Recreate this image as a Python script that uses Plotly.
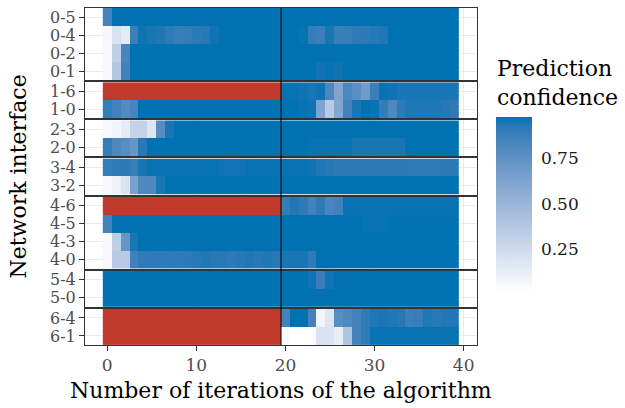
import numpy as np
import plotly.graph_objects as go
from plotly.subplots import make_subplots

# ---------------- DATA ----------------
ITERATIONS = list(range(40))
GROUPS = [
    ["0-5", "0-4", "0-2", "0-1"],
    ["1-6", "1-0"],
    ["2-3", "2-0"],
    ["3-4", "3-2"],
    ["4-6", "4-5", "4-3", "4-0"],
    ["5-4", "5-0"],
    ["6-4", "6-1"],
]
N = None
CONF = {
    "0-5": [.85, .98, .98, .98, .98, .98, .98, .98, .98, .98, .98, .98, .98, .98, .98, .98, .98, .98, .98, .98,
            .98, .98, .98, .98, .98, .98, .98, .98, .98, .98, .98, .98, .98, .98, .98, .98, .98, .98, .98, .98],
    "0-4": [.06, .20, .13, .88, .96, .95, .94, .91, .89, .90, .92, .93, .96, .98, .98, .98, .98, .98, .98, .98,
            .98, .98, .97, .90, .88, .95, .88, .89, .91, .92, .93, .94, .98, .98, .98, .98, .98, .98, .98, .98],
    "0-2": [.05, .32, .84, .98, .98, .98, .98, .98, .98, .98, .98, .98, .98, .98, .98, .98, .98, .98, .98, .98,
            .98, .98, .98, .98, .98, .98, .98, .98, .98, .98, .98, .98, .98, .98, .98, .98, .98, .98, .98, .98],
    "0-1": [.05, .38, .86, .98, .98, .98, .98, .98, .98, .98, .98, .98, .98, .98, .98, .98, .98, .98, .98, .98,
            .98, .98, .98, .98, .96, .97, .96, .98, .98, .98, .98, .98, .98, .98, .98, .98, .98, .98, .98, .98],
    "1-6": [N, N, N, N, N, N, N, N, N, N, N, N, N, N, N, N, N, N, N, N,
            .97, .97, .96, .95, .96, .83, .62, .83, .77, .68, .88, .97, .96, .95, .95, .95, .95, .95, .95, .95],
    "1-0": [.90, .86, .80, .84, .98, .98, .98, .98, .98, .98, .98, .98, .98, .98, .98, .98, .98, .98, .98, .98,
            .98, .98, .97, .96, .62, .35, .60, .86, .95, .98, .97, .90, .82, .91, .94, .94, .94, .94, .93, .92],
    "2-3": [.05, .08, .13, .30, .30, .17, .78, .95, .98, .98, .98, .98, .98, .98, .98, .98, .98, .98, .98, .98,
            .98, .98, .98, .98, .98, .98, .98, .98, .98, .98, .98, .98, .98, .98, .98, .98, .98, .98, .98, .98],
    "2-0": [.90, .82, .78, .72, .93, .98, .98, .98, .98, .98, .98, .98, .98, .98, .98, .98, .98, .98, .98, .98,
            .98, .98, .98, .97, .97, .97, .97, .97, .95, .95, .95, .95, .95, .95, .98, .98, .98, .98, .98, .98],
    "3-4": [.90, .91, .92, .89, .95, .97, .97, .97, .97, .97, .97, .97, .97, .96, .96, .96, .97, .97, .97, .97,
            .97, .97, .97, .96, .94, .93, .92, .92, .92, .92, .92, .92, .92, .92, .92, .91, .91, .91, .92, .92],
    "3-2": [.05, .10, .18, .64, .82, .82, .95, .98, .98, .98, .98, .98, .98, .98, .98, .98, .98, .98, .98, .98,
            .98, .98, .98, .98, .98, .98, .98, .98, .98, .98, .98, .98, .98, .98, .98, .98, .98, .98, .98, .98],
    "4-6": [N, N, N, N, N, N, N, N, N, N, N, N, N, N, N, N, N, N, N, N,
            .90, .94, .92, .87, .92, .84, .86, .97, .97, .97, .97, .97, .97, .97, .97, .97, .97, .97, .97, .97],
    "4-5": [.86, .98, .98, .98, .98, .98, .98, .98, .98, .98, .98, .98, .98, .98, .98, .98, .98, .98, .98, .98,
            .98, .98, .98, .98, .98, .98, .98, .98, .98, .97, .97, .97, .98, .98, .98, .98, .98, .98, .98, .98],
    "4-3": [.05, .32, .72, .95, .98, .98, .98, .98, .98, .98, .98, .98, .98, .98, .98, .98, .98, .98, .98, .98,
            .98, .98, .98, .98, .98, .98, .98, .98, .98, .98, .98, .98, .98, .98, .98, .98, .98, .98, .98, .98],
    "4-0": [.05, .35, .35, .87, .91, .92, .91, .92, .91, .92, .93, .94, .93, .93, .92, .93, .94, .93, .94, .93,
            .95, .95, .95, .91, .98, .98, .98, .98, .98, .98, .98, .98, .98, .98, .98, .98, .98, .98, .98, .98],
    "5-4": [.98, .98, .98, .98, .98, .98, .98, .98, .98, .98, .98, .98, .98, .98, .98, .98, .98, .98, .98, .98,
            .98, .98, .98, .96, .88, .96, .98, .98, .98, .98, .98, .98, .98, .98, .98, .98, .98, .98, .98, .98],
    "5-0": [.98, .98, .98, .98, .98, .98, .98, .98, .98, .98, .98, .98, .98, .98, .98, .98, .98, .98, .98, .98,
            .98, .98, .98, .98, .98, .98, .98, .98, .98, .98, .98, .98, .98, .98, .98, .98, .98, .98, .98, .98],
    "6-4": [N, N, N, N, N, N, N, N, N, N, N, N, N, N, N, N, N, N, N, N,
            .86, .98, .98, .86, .08, .17, .78, .82, .86, .91, .94, .95, .94, .93, .88, .89, .94, .93, .94, .94],
    "6-1": [N, N, N, N, N, N, N, N, N, N, N, N, N, N, N, N, N, N, N, N,
            .04, .01, .01, .03, .19, .19, .12, .40, .86, .91, .97, .97, .97, .97, .97, .97, .97, .97, .97, .97],
}
SWITCH_AT = 19.5
X_TICKS = [0, 10, 20, 30, 40]
C_TICKS = [0.25, 0.50, 0.75]
C_TICK_TEXT = ["0.25", "0.50", "0.75"]

# ---------------- STYLE ----------------
LOW, HIGH, NA_COLOR = "#FFFFFF", "#0072B2", "#BF3A2B"
FONT = "DejaVu Serif"
W, H = 625, 408
L_M, R_M, T_M, B_M = 85, 148, 8, 63
PW, PH = W - L_M - R_M, H - T_M - B_M
CMIN, CMAX = 0.01, 0.98
BAR_X0, BAR_W, BAR_TOP, BAR_LEN = 496, 36, 117, 175


def _lin(c):
    c = c / 255.0
    return np.where(c <= 0.04045, c / 12.92, ((c + 0.055) / 1.055) ** 2.4)


def _unlin(c):
    c = np.where(c <= 0.0031308, 12.92 * c, 1.055 * np.power(np.clip(c, 0, None), 1 / 2.4) - 0.055)
    return np.clip(np.round(c * 255), 0, 255)


M = np.array([[0.4124, 0.3576, 0.1805], [0.2126, 0.7152, 0.0722], [0.0193, 0.1192, 0.9505]])
WHITE = M @ np.ones(3)


def _f(t):
    d = 6 / 29
    return np.where(t > d ** 3, np.cbrt(t), t / (3 * d * d) + 4 / 29)


def _finv(t):
    d = 6 / 29
    return np.where(t > d, t ** 3, 3 * d * d * (t - 4 / 29))


def hex2lab(h):
    rgb = np.array([int(h[i:i + 2], 16) for i in (1, 3, 5)], float)
    xyz = M @ _lin(rgb) / WHITE
    fx, fy, fz = _f(xyz)
    return np.array([116 * fy - 16, 500 * (fx - fy), 200 * (fy - fz)])


def lab2rgb(lab):
    L, a, b = lab
    fy = (L + 16) / 116
    xyz = np.array([_finv(fy + a / 500), _finv(fy), _finv(fy - b / 200)]) * WHITE
    rgb = _unlin(np.linalg.solve(M, xyz))
    return "rgb(%d,%d,%d)" % tuple(rgb)


l0, l1 = hex2lab(LOW), hex2lab(HIGH)
colorscale = [[t, lab2rgb(l0 + (l1 - l0) * t)] for t in np.linspace(0, 1, 21)]


def px_x(p):
    return (p - L_M) / PW


def px_y(p):
    return (T_M + PH - p) / PH


heights = [len(g) for g in GROUPS]
fig = make_subplots(rows=len(GROUPS), cols=1, shared_xaxes=True,
                    vertical_spacing=2.0 / PH, row_heights=heights)

for i, g in enumerate(GROUPS, start=1):
    z = [[np.nan if v is None else v for v in CONF[lab]] for lab in g]
    zna = [[1 if v is None else np.nan for v in CONF[lab]] for lab in g]
    fig.add_trace(go.Heatmap(x=ITERATIONS, y=g, z=z, coloraxis="coloraxis",
                             hoverongaps=False), row=i, col=1)
    fig.add_trace(go.Heatmap(x=ITERATIONS, y=g, z=zna, showscale=False,
                             colorscale=[[0, NA_COLOR], [1, NA_COLOR]], hoverongaps=False), row=i, col=1)
    fig.update_yaxes(row=i, col=1, type="category", categoryorder="array",
                     categoryarray=g, tickmode="array", tickvals=g, ticktext=g,
                     range=[len(g) - 0.5, -0.5])

fig.update_xaxes(range=[-2.5, 41.5], tickvals=X_TICKS, showgrid=True, gridcolor="#EBEBEB", gridwidth=1,
                 minor=dict(tickvals=[5, 15, 25, 35], showgrid=True, gridcolor="#F5F5F5", gridwidth=0.6),
                 showline=True, mirror=True, linecolor="#333333", linewidth=1, zeroline=False,
                 ticks="", tickfont=dict(family=FONT, size=17, color="#4D4D4D"))
fig.update_xaxes(row=len(GROUPS), col=1, ticks="outside", ticklen=5, tickcolor="#333333", tickwidth=1)
fig.update_yaxes(showgrid=True, gridcolor="#EBEBEB", gridwidth=1, showline=True, mirror=True,
                 linecolor="#333333", linewidth=1, zeroline=False, ticks="outside", ticklen=5,
                 tickcolor="#333333", tickwidth=1, automargin=False,
                 tickfont=dict(family=FONT, size=16, color="#4D4D4D"))

# iteration where the algorithm switches phase
fig.add_shape(type="line", xref="x", yref="paper", x0=SWITCH_AT, x1=SWITCH_AT, y0=0, y1=1,
              line=dict(color="black", width=1), layer="above")

fig.update_layout(
    width=W, height=H,
    margin=dict(l=L_M, r=R_M, t=T_M, b=B_M, autoexpand=False),
    paper_bgcolor="white", plot_bgcolor="white",
    font=dict(family=FONT, color="black"),
    coloraxis=dict(
        colorscale=colorscale, cmin=CMIN, cmax=CMAX,
        colorbar=dict(
            thickness=BAR_W, thicknessmode="pixels", len=BAR_LEN, lenmode="pixels",
            x=px_x(BAR_X0), xanchor="left", xpad=0,
            y=px_y(BAR_TOP + BAR_LEN / 2), yanchor="middle", ypad=0,
            outlinewidth=0, tickvals=C_TICKS, ticktext=C_TICK_TEXT,
            ticks="outside", ticklen=6, tickcolor="rgba(255,255,255,0)", tickwidth=1,
            tickfont=dict(family=FONT, size=17, color="#1A1A1A"),
        ),
    ),
    showlegend=False,
)

# white tick marks drawn on both edges of the colour bar (ggplot style)
for v in C_TICKS:
    yp = px_y(BAR_TOP + BAR_LEN - (v - CMIN) / (CMAX - CMIN) * BAR_LEN)
    for a, b in ((BAR_X0, BAR_X0 + 7), (BAR_X0 + BAR_W - 7, BAR_X0 + BAR_W)):
        fig.add_shape(type="line", xref="paper", yref="paper", x0=px_x(a), x1=px_x(b), y0=yp, y1=yp,
                      line=dict(color="white", width=1), layer="above")

fig.add_annotation(text="Prediction<br>confidence", xref="paper", yref="paper",
                   x=px_x(BAR_X0 - 1), y=px_y(54), xanchor="left", yanchor="top",
                   align="left", showarrow=False,
                   font=dict(family=FONT, size=22, color="black"))
fig.add_annotation(text="Number of iterations of the algorithm", xref="paper", yref="paper",
                   x=0.5, y=px_y(376), xanchor="center", yanchor="top", showarrow=False,
                   font=dict(family=FONT, size=22, color="black"))
fig.add_annotation(text="Network interface", xref="paper", yref="paper",
                   x=px_x(18), y=0.5, xanchor="center", yanchor="middle", textangle=-90,
                   showarrow=False, font=dict(family=FONT, size=22, color="black"))

fig.write_html("out.html", config={"displayModeBar": False},
               post_script="document.body.style.margin='0';document.body.style.padding='0';")
